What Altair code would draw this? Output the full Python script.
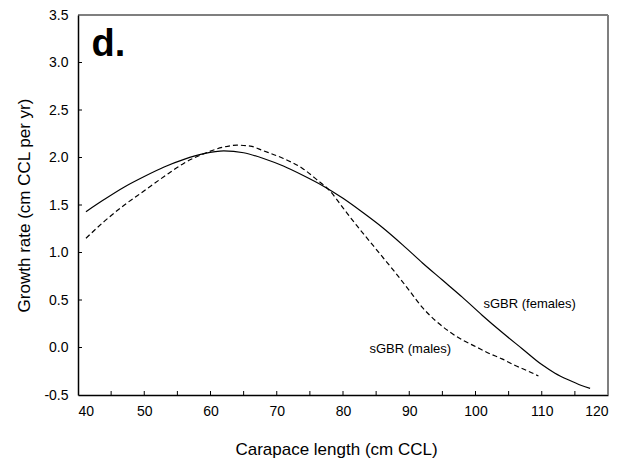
import altair as alt
import pandas as pd

# Female (solid) growth curve
fem_x = [41.2, 44, 47, 50, 53, 56, 59, 62, 65, 68, 71, 74, 77, 80, 83, 86, 89, 92, 95, 98, 101, 104, 107, 110, 112, 114, 116, 117.3]
fem_y = [1.43, 1.56, 1.69, 1.80, 1.90, 1.98, 2.04, 2.07, 2.05, 1.99, 1.91, 1.81, 1.70, 1.57, 1.42, 1.26, 1.08, 0.89, 0.71, 0.53, 0.34, 0.16, -0.01, -0.18, -0.27, -0.34, -0.40, -0.43]

# Male (dashed) growth curve
male_x = [41.2, 44, 47, 50, 53, 56, 59, 62, 64, 66, 68, 71, 74, 76, 78, 80, 82, 84, 86, 88, 90, 92, 94, 96, 98, 100, 102, 104, 106, 108, 109.5]
male_y = [1.15, 1.33, 1.50, 1.65, 1.80, 1.94, 2.04, 2.11, 2.13, 2.12, 2.07, 1.99, 1.88, 1.77, 1.65, 1.47, 1.29, 1.12, 0.95, 0.78, 0.60, 0.42, 0.28, 0.17, 0.08, 0.01, -0.06, -0.12, -0.19, -0.25, -0.30]

x_ticks = [40, 50, 60, 70, 80, 90, 100, 110, 120]
x_minor = [45, 50, 55, 60, 65, 70, 75, 80, 85, 90, 95, 100, 105, 110, 115]
y_ticks = [-0.5, 0.0, 0.5, 1.0, 1.5, 2.0, 2.5, 3.0, 3.5]
y_minor = [0.0, 0.5, 1.0, 1.5, 2.0, 2.5, 3.0]

label_text = ["sGBR (females)", "sGBR (males)"]
label_x = [101.2, 84.0]
label_y = [0.46, -0.02]

panel_text = ["d."]
panel_x = [42.05]
panel_y = [3.07]

W, H = 530, 380
FONT = "Liberation Sans"

xs = alt.Scale(domain=[40, 120], nice=False, zero=False)
ys = alt.Scale(domain=[-0.5, 3.5], nice=False, zero=False)

fem = pd.DataFrame({"x": fem_x, "y": fem_y})
male = pd.DataFrame({"x": male_x, "y": male_y})

x_axis = alt.Axis(values=x_ticks, title="Carapace length (cm CCL)", grid=False, ticks=False, tickSize=0,
                  labelPadding=9, titlePadding=23, labelFontSize=14, titleFontSize=17, titleX=258,
                  labelFont=FONT, titleFont=FONT, titleFontWeight="normal", labelColor="black",
                  titleColor="black", domainColor="black", domainWidth=1.5, format="d")
y_axis = alt.Axis(values=y_ticks, title="Growth rate (cm CCL per yr)", grid=False, ticks=False, tickSize=0,
                  labelPadding=10, titlePadding=10, labelFontSize=14, titleFontSize=17,
                  labelFont=FONT, titleFont=FONT, titleFontWeight="normal", labelColor="black",
                  titleColor="black", domainColor="black", domainWidth=1.5,
                  labelExpr="replace(format(datum.value, '.1f'), '\u2212', '-')")

female_line = alt.Chart(fem).mark_line(color="black", strokeWidth=1.2, interpolate="monotone").encode(
    x=alt.X("x:Q", scale=xs, axis=x_axis),
    y=alt.Y("y:Q", scale=ys, axis=y_axis),
)
male_line = alt.Chart(male).mark_line(color="black", strokeWidth=1.2, strokeDash=[5, 3], interpolate="monotone").encode(
    x=alt.X("x:Q", scale=xs),
    y=alt.Y("y:Q", scale=ys),
)

xt = alt.Chart(pd.DataFrame({"t": x_minor})).mark_rule(color="black", strokeWidth=1).encode(
    x=alt.X("t:Q", scale=xs), y=alt.value(H), y2=alt.value(H - 4))
yt = alt.Chart(pd.DataFrame({"t": y_minor})).mark_rule(color="black", strokeWidth=1).encode(
    y=alt.Y("t:Q", scale=ys), x=alt.value(0), x2=alt.value(4))

top_border = alt.Chart(pd.DataFrame({"x": [40], "x2": [120], "y": [3.5]})).mark_rule(color="black", strokeWidth=1.2).encode(
    x=alt.X("x:Q", scale=xs), x2="x2:Q", y=alt.Y("y:Q", scale=ys))
right_border = alt.Chart(pd.DataFrame({"x": [120], "y": [-0.5], "y2": [3.5]})).mark_rule(color="#7f7f7f", strokeWidth=2).encode(
    x=alt.X("x:Q", scale=xs), y=alt.Y("y:Q", scale=ys), y2="y2:Q")

labels = alt.Chart(pd.DataFrame({"t": label_text, "x": label_x, "y": label_y})).mark_text(
    align="left", baseline="middle", font=FONT, fontSize=13, color="black").encode(
    x=alt.X("x:Q", scale=xs), y=alt.Y("y:Q", scale=ys), text="t:N")

panel = alt.Chart(pd.DataFrame({"t": panel_text, "x": panel_x, "y": panel_y})).mark_text(
    align="left", baseline="alphabetic", font=FONT, fontSize=38, fontWeight="bold", color="black").encode(
    x=alt.X("x:Q", scale=xs), y=alt.Y("y:Q", scale=ys), text="t:N")

chart = alt.layer(female_line, male_line, xt, yt, top_border, right_border, labels, panel).properties(
    width=W, height=H,
    autosize=alt.AutoSizeParams(type="none"),
    padding={"left": 70, "top": 7, "right": 5, "bottom": 70},
    background="white",
).configure_view(stroke=None)

chart.save("out.html", embed_options={"renderer": "svg", "actions": False})
